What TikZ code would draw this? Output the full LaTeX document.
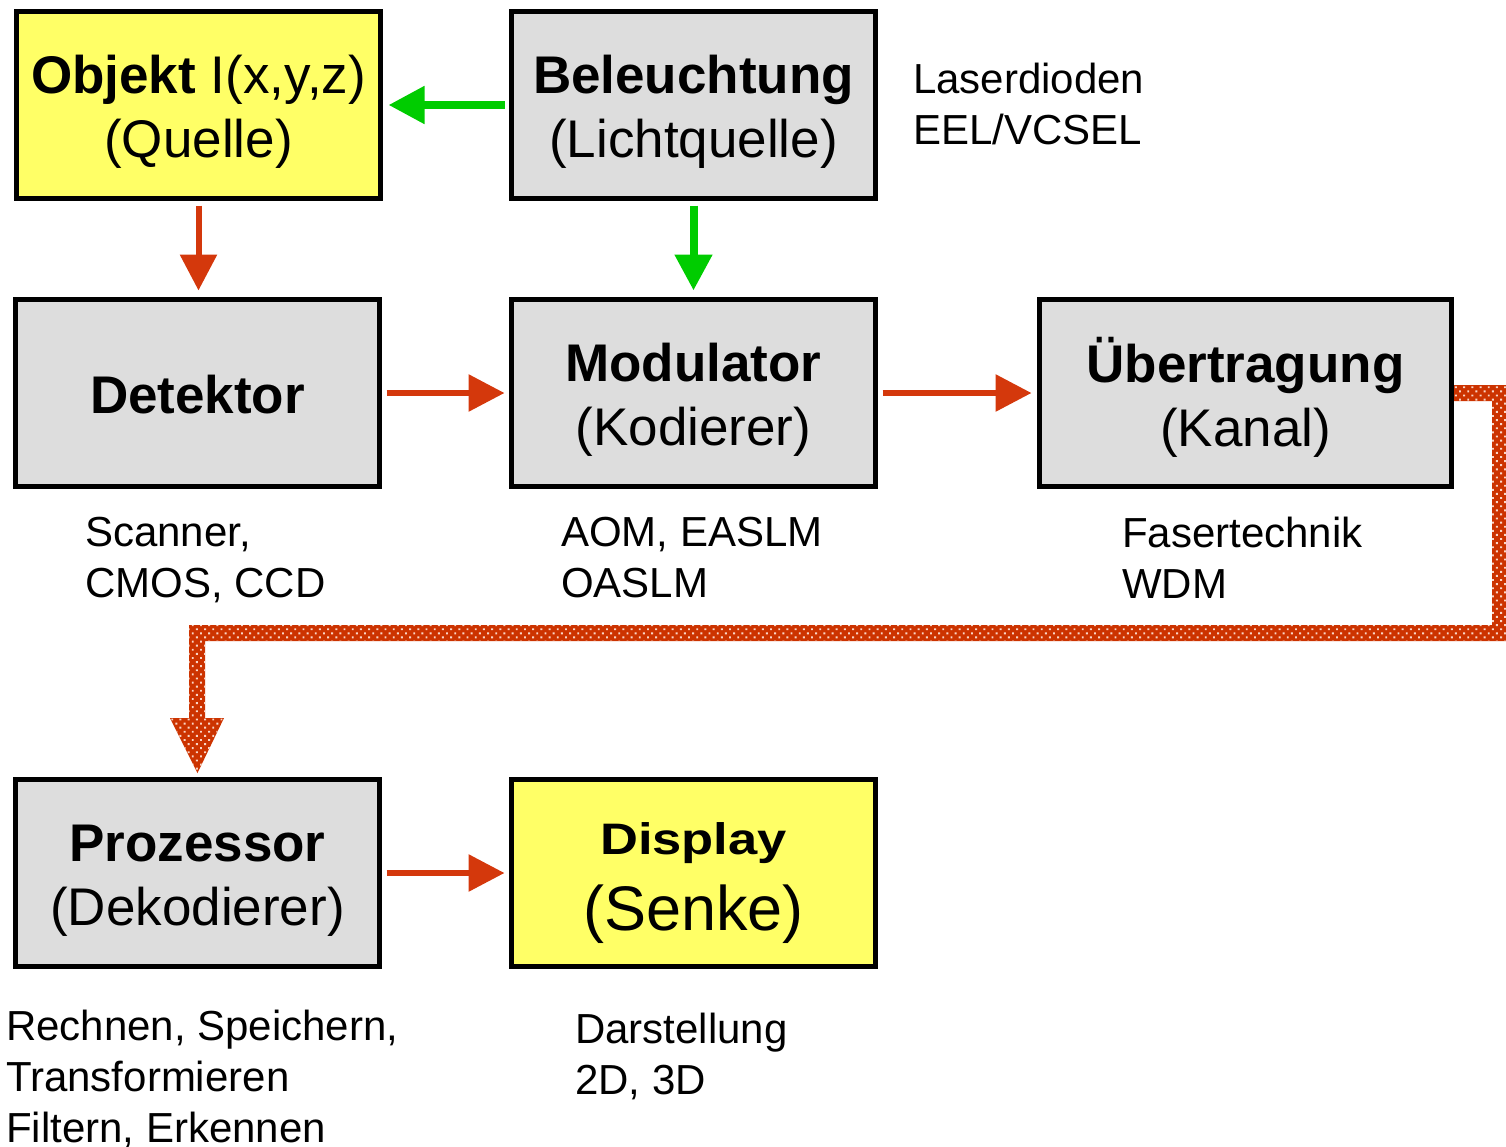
\documentclass[tikz,border=0pt]{standalone}
\usepackage{fontspec}
\setmainfont{Liberation Sans}
\usetikzlibrary{arrows.meta,patterns.meta}
\definecolor{boxyellow}{RGB}{255,255,102}
\definecolor{boxgray}{RGB}{221,221,221}
\definecolor{arrgreen}{RGB}{0,204,0}
\definecolor{arrred}{RGB}{212,56,12}
\definecolor{dotred}{RGB}{204,51,0}
\definecolor{dotlight}{RGB}{250,215,200}
\newcommand{\boxlines}[2][-8pt]{\raisebox{#1}[\height][\depth]{\begin{tabular}{@{}c@{}}#2\end{tabular}}}
\tikzset{
  blockbox/.style={draw=black, line width=5pt, inner sep=0pt, minimum width=364pt, minimum height=187pt,
    align=center, font=\fontsize{53}{64}\selectfont},
  graybox/.style={blockbox, fill=boxgray},
  yellowbox/.style={blockbox, fill=boxyellow},
  greenarrow/.style={draw=arrgreen, line width=8pt, -{Triangle[length=36pt,width=36pt]}},
  redarrow/.style={draw=arrred, line width=6pt, -{Triangle[length=36pt,width=36pt]}},
  infolabel/.style={anchor=north west, inner sep=0pt, align=left, font=\fontsize{42}{51}\selectfont},
}
\begin{document}
\begin{tikzpicture}[x=1pt,y=-1pt]
\useasboundingbox (0,0) rectangle (1506,1146);
% boxes
\node[yellowbox] (obj) at (198.5,105) {\boxlines{\textbf{Objekt} I(x,y,z)\\(Quelle)}};
\node[graybox] (bel) at (693.5,105) {\boxlines{\textbf{Beleuchtung}\\(Lichtquelle)}};
\node[graybox] (det) at (197.5,393) {\boxlines{\textbf{Detektor}}};
\node[graybox] (mod) at (693.5,393) {\boxlines{\textbf{Modulator}\\(Kodierer)}};
\node[graybox, minimum width=412pt] (ueb) at (1245.5,393) {\boxlines{\textbf{Übertragung}\\(Kanal)}};
\node[graybox] (pro) at (197.5,873) {\boxlines{\textbf{Prozessor}\\(Dekodierer)}};
\node[yellowbox] (dis) at (693.5,873) {\boxlines[-7pt]{\scalebox{1.25}[1.05]{\fontsize{42}{51}\selectfont\bfseries Display}\\[11pt]{\fontsize{63}{70}\selectfont (Senke)}}};
% arrows
\draw[greenarrow, shorten <=4.5pt, shorten >=5.5pt] (bel.west) -- (obj.east);
\draw[greenarrow, shorten <=4.5pt, shorten >=6.5pt] (bel.south) -- (bel.south |- mod.north);
\draw[redarrow, shorten <=4.5pt, shorten >=6.5pt] (obj.south) -- (obj.south |- det.north);
\draw[redarrow, shorten <=4.5pt, shorten >=4.5pt] (det.east) -- (mod.west);
\draw[redarrow, shorten <=4.5pt, shorten >=5.5pt] (mod.east) -- (ueb.west);
\draw[redarrow, shorten <=4.5pt, shorten >=4.5pt] (pro.east) -- (pro.east -| dis.west);
% thick dotted connector from Übertragung to Prozessor
\coordinate (c0) at (ueb.east);
\coordinate (c1) at (pro.north);
\path[fill=dotred, postaction={pattern={Dots[distance=5.8pt,angle=45,radius=1.35pt]}, pattern color=dotlight}]
  (c0 |- 0,385) -- (1506,385) -- (1506,641) -- (205,641) -- (205,718) -- (224,718)
  -- (c1 |- 0,773) -- (170,718) -- (189,718) -- (189,625) -- (1492,625) -- (1492,401)
  -- (c0 |- 0,401) -- cycle;
% labels
\node[infolabel] (l1) at (913,62.5) {Laserdioden\\EEL/VCSEL};
\node[infolabel] (l2) at (85,516.5) {Scanner,\\CMOS, CCD};
\node[infolabel] (l3) at (561,516.5) {AOM, EASLM\\OASLM};
\node[infolabel] (l4) at (1122,516.5) {Fasertechnik\\WDM};
\node[infolabel] (l5) at (6,1009.5) {Rechnen, Speichern,\\Transformieren\\Filtern, Erkennen};
\node[infolabel] (l6) at (575,1012.5) {Darstellung\\2D, 3D};
\end{tikzpicture}
\end{document}
